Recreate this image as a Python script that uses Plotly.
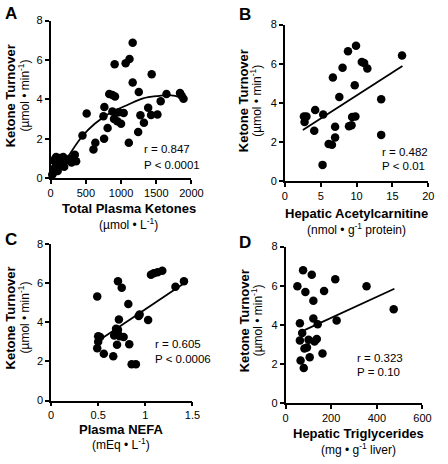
import plotly.graph_objects as go

W, H = 448, 464
FONT = "Arial, Liberation Sans, Helvetica, sans-serif"

# ---------------- Data ----------------
# Panel A: Total plasma ketones (µmol/L) vs ketone turnover (µmol/min)
a_x = [32, 55, 78, 133, 178, 146, 224, 270, 343, 362, 297, 192, 100, 23, 78, 60, 110, 40, 160,
       1165, 1120, 1065, 909, 1435, 1165, 1252, 832, 877, 914, 1645, 1837, 1860, 1887, 1563,
       763, 1385, 1275, 512, 750, 877, 923, 969, 1037, 900, 946, 1000, 1426, 1517, 1325, 809,
       1243, 452, 635, 608, 759, 1110]
a_y = [0.25, 0.5, 0.74, 1.02, 1.07, 0.79, 0.91, 0.99, 1.19, 0.86, 0.79, 0.58, 0.36, 0.17, 1.07, 0.95, 0.6, 0.9, 0.95,
       6.87, 6.05, 5.83, 5.78, 5.28, 4.86, 4.37, 4.27, 4.22, 4.15, 4.27, 4.32, 4.18, 4.03, 3.9,
       3.61, 3.58, 3.19, 3.28, 3.14, 3.38, 3.31, 3.34, 3.31, 3.0, 2.89, 2.76, 3.21, 3.23, 2.81, 2.55,
       2.34, 2.17, 1.8, 1.46, 2.0, 1.8]
a_fit_x = [215, 443, 626, 855, 1083, 1312, 1540, 1654, 1769, 1906]
a_fit_y = [0.9, 2.1, 2.76, 3.33, 3.7, 4.05, 4.18, 4.22, 4.18, 4.02]

# Panel B: Hepatic acetylcarnitine (nmol/g protein)
b_x = [2.65, 3.0, 2.74, 4.22, 4.09, 5.34, 6.69, 7.59, 8.04, 8.8, 9.92, 9.74, 10.73, 11.05, 11.5,
       13.43, 13.43, 16.34, 5.25, 6.1, 6.56, 7.0, 7.0, 8.94, 9.3, 9.38, 9.83]
b_y = [3.31, 3.31, 3.03, 3.64, 2.58, 3.41, 5.3, 4.3, 5.79, 6.64, 6.92, 4.9, 6.09, 6.04, 5.76,
       4.19, 2.37, 6.42, 0.84, 1.9, 1.87, 2.24, 2.78, 2.81, 2.86, 3.28, 3.31]
b_fit_x = [2.5, 16.4]
b_fit_y = [2.62, 5.88]

# Panel C: Plasma NEFA (mEq/L)
c_x = [0.49, 0.5, 0.52, 0.5, 0.49, 0.56, 0.66, 0.70, 0.67, 0.71, 0.73, 0.77, 0.69, 0.71, 0.72,
       0.71, 0.75, 0.82, 0.83, 0.855, 0.9, 0.93, 0.94, 1.03, 1.06, 1.09, 1.13, 1.18, 1.32, 1.41]
c_y = [5.32, 3.29, 3.25, 3.01, 2.67, 2.39, 2.26, 2.85, 3.33, 3.38, 3.29, 3.25, 3.67, 3.62, 4.15,
       6.1, 5.77, 4.94, 2.88, 1.86, 1.85, 4.32, 4.4, 4.12, 6.44, 6.51, 6.56, 6.64, 5.82, 6.1]
c_fit_x = [0.51, 1.40]
c_fit_y = [3.08, 5.96]

# Panel D: Hepatic triglycerides (mg/g liver)
d_x = [77, 115, 52, 87, 169, 122, 218, 355, 474, 63, 122, 141, 224, 73, 63, 101, 137, 127,
       83, 94, 106, 66, 80, 162]
d_y = [6.8, 6.56, 5.98, 5.68, 5.73, 5.24, 6.34, 5.98, 4.81, 4.09, 4.33, 4.04, 4.23, 3.59, 3.21,
       3.25, 3.29, 3.16, 2.8, 2.85, 2.36, 2.19, 1.81, 2.55]
d_fit_x = [83, 477]
d_fit_y = [3.74, 5.85]

y_ticks = [0, 2, 4, 6, 8]
a_xticks = [0, 500, 1000, 1500, 2000]
b_xticks = [0, 5, 10, 15, 20]
c_xticks = [0, 0.5, 1, 1.5]
c_xticklabels = ["0", "0.5", "1", "1.5"]
d_xticks = [0, 200, 400, 600]

panel_letters = ["A", "B", "C", "D"]
y_title = "Ketone Turnover"
y_units = "(µmol • min<sup>-1</sup>)"
x_titles = ["Total Plasma Ketones", "Hepatic Acetylcarnitine", "Plasma NEFA", "Hepatic Triglycerides"]
x_units = ["(µmol • L<sup>-1</sup>)", "(nmol • g<sup>-1</sup> protein)",
           "(mEq • L<sup>-1</sup>)", "(mg • g<sup>-1</sup> liver)"]
stats = [("r = 0.847", "P < 0.0001"), ("r = 0.482", "P < 0.01"),
         ("r = 0.605", "P < 0.0006"), ("r = 0.323", "P = 0.10")]

# ---------------- Layout helpers ----------------
def px(x):
    return x / W

def py(y):
    return 1 - y / H

# pixel boxes: (left, right, top, bottom)
boxes = [(49.3, 195, 15, 176.7), (291.7, 440, 19, 180),
         (49.7, 196, 244.5, 405), (292.3, 434, 247, 408)]

fig = go.Figure()

panels = [
    (a_x, a_y, a_fit_x, a_fit_y, [0, 2000], a_xticks, None, "spline"),
    (b_x, b_y, b_fit_x, b_fit_y, [0, 20], b_xticks, None, "linear"),
    (c_x, c_y, c_fit_x, c_fit_y, [0, 1.5], c_xticks, c_xticklabels, "linear"),
    (d_x, d_y, d_fit_x, d_fit_y, [0, 600], d_xticks, None, "linear"),
]

layout = dict(width=W, height=H, margin=dict(l=0, r=0, t=0, b=0),
              paper_bgcolor="white", plot_bgcolor="white", showlegend=False,
              font=dict(family=FONT, color="black"))

for i, (xs, ys, fx, fy, xr, xt, xtl, shape) in enumerate(panels):
    n = "" if i == 0 else str(i + 1)
    xa, ya = "x" + n, "y" + n
    fig.add_trace(go.Scatter(x=fx, y=fy, mode="lines", xaxis=xa, yaxis=ya,
                             line=dict(color="black", width=1.8, shape=shape, smoothing=1.0),
                             hoverinfo="skip"))
    fig.add_trace(go.Scatter(x=xs, y=ys, mode="markers", xaxis=xa, yaxis=ya, cliponaxis=False,
                             marker=dict(color="black", size=8.5, line=dict(width=0))))
    l, r, t, b = boxes[i]
    common = dict(showline=True, linecolor="black", linewidth=1.5, ticks="outside", ticklen=4,
                  tickwidth=1.5, tickcolor="black", showgrid=False, zeroline=False,
                  tickfont=dict(size=11, color="black", family=FONT))
    xaxis = dict(common, range=xr, domain=[px(l), px(r)], anchor=ya, tickvals=xt)
    if xtl:
        xaxis["ticktext"] = xtl
    yaxis = dict(common, range=[0, 8], domain=[py(b), py(t)], anchor=xa, tickvals=y_ticks)
    layout["xaxis" + n] = xaxis
    layout["yaxis" + n] = yaxis

fig.update_layout(**layout)

# ---------------- Text ----------------
ann = []
def add(text, x, y, size, bold=False, angle=0, xanchor="center"):
    ann.append(dict(text=("<b>%s</b>" % text) if bold else text, x=px(x), y=py(y),
                    xref="paper", yref="paper", showarrow=False, textangle=angle,
                    xanchor=xanchor, yanchor="middle",
                    font=dict(size=size, family=FONT, color="black")))

letter_pos = [(8, 8), (250, 9), (8, 240), (250, 243)]
ytitle_pos = [(8, 92, 21.5), (249, 97, 262), (8, 320, 21.5), (250, 323, 262.5)]
xtitle_pos = [(130, 208, 224), (366, 213, 229), (122, 435, 450), (368, 439, 455)]
stats_pos = [(144, 147, 163), (390, 150, 164), (155, 347, 362), (364, 361, 376)]

for i in range(4):
    add(panel_letters[i], *letter_pos[i], 17, bold=True)
    yx, yy, ux = ytitle_pos[i]
    add(y_title, yx, yy, 13, bold=True, angle=-90)
    add(y_units, ux, yy, 12, angle=-90)
    tx, ty, uy = xtitle_pos[i]
    add(x_titles[i], tx, ty, 13, bold=True)
    add(x_units[i], tx, uy, 12)
    sx, sy1, sy2 = stats_pos[i]
    add(stats[i][0], sx, sy1, 11.5, xanchor="left")
    add(stats[i][1], sx, sy2, 11.5, xanchor="left")

fig.update_layout(annotations=ann)
fig.write_html("out.html", config={"displayModeBar": False},
               post_script="document.body.style.margin='0';document.body.style.padding='0';")
